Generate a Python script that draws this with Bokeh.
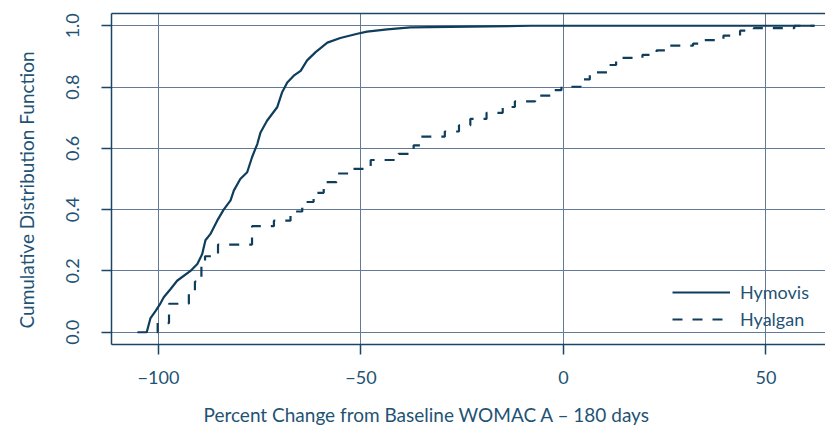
from bokeh.plotting import figure
from bokeh.models import Range1d, FixedTicker, LinearAxis, Legend, LegendItem, Title
from bokeh.embed import file_html
from bokeh.resources import INLINE

# Hymovis empirical CDF (traced)
hymovis_x = [-105.2, -102.9, -102.0, -100.7, -99.7, -98.7, -97.0, -95.4, -92.1, -90.4,
             -89.2, -88.4, -87.2, -85.5, -83.9, -82.2, -81.4, -79.8, -78.1, -76.9,
             -75.6, -74.8, -73.2, -70.7, -69.5, -68.2, -66.6, -64.9, -63.3, -61.2,
             -58.3, -55.1, -50.9, -48.5, -43.5, -37.8, -8.0, 62.0]
hymovis_y = [0.0, 0.0, 0.045, 0.07, 0.09, 0.114, 0.141, 0.168, 0.2, 0.223,
             0.255, 0.3, 0.32, 0.364, 0.40, 0.43, 0.462, 0.5, 0.522, 0.571,
             0.614, 0.652, 0.69, 0.734, 0.782, 0.815, 0.837, 0.853, 0.887, 0.914,
             0.945, 0.96, 0.974, 0.981, 0.988, 0.995, 1.0, 1.0]

# Hyalgan empirical CDF (step positions, traced)
hyalgan_x = [-100.4, -100.2, -97.4, -92.5, -91.0, -89.4, -88.5, -85.3, -76.9, -71.5,
             -67.4, -64.5, -61.7, -59.2, -56.0, -52.6, -47.6, -40.7, -37.0, -35.3,
             -29.3, -25.8, -23.0, -19.0, -15.0, -12.0, -7.0, -3.2, -0.5, 4.2,
             6.5, 11.0, 13.0, 19.5, 23.0, 25.5, 32.0, 34.5, 39.5, 43.6,
             47.0, 57.0, 62.0]
hyalgan_y = [0.0, 0.03, 0.093, 0.13, 0.165, 0.22, 0.248, 0.286, 0.346, 0.364,
             0.394, 0.425, 0.455, 0.49, 0.518, 0.533, 0.562, 0.582, 0.61, 0.638,
             0.655, 0.675, 0.696, 0.716, 0.735, 0.753, 0.772, 0.79, 0.801, 0.825,
             0.848, 0.872, 0.895, 0.905, 0.92, 0.935, 0.942, 0.953, 0.968, 0.984,
             0.992, 1.0, 1.0]

x_ticks = [-100, -50, 0, 50]
x_tick_labels = ["\u2212100", "\u221250", "0", "50"]
y_ticks = [0.0, 0.2, 0.4, 0.6, 0.8, 1.0]
y_tick_labels = ["0.0", "0.2", "0.4", "0.6", "0.8", "1.0"]

FONT = "Lato"
TEXT = "#1f5375"
FRAME = "#1b4566"
CURVE = "#0f3d5c"
GRID = "#62799a"
FS = "18px"

p = figure(width=825, height=425, output_backend="svg", toolbar_location=None,
           x_range=Range1d(-111.6, 64.7), y_range=Range1d(-0.04, 1.04),
           x_axis_location=None, y_axis_location=None,
           min_border_left=111, min_border_right=0, min_border_top=13, min_border_bottom=81)
p.outline_line_color = None
p.background_fill_color = "white"
p.border_fill_color = "white"

xaxis = LinearAxis(ticker=FixedTicker(ticks=x_ticks),
                   major_label_overrides={t: l for t, l in zip(x_ticks, x_tick_labels)})
yaxis = LinearAxis(ticker=FixedTicker(ticks=y_ticks),
                   major_label_overrides={t: l for t, l in zip(y_ticks, y_tick_labels)},
                   major_label_orientation="vertical")
for ax in (xaxis, yaxis):
    ax.axis_line_color = FRAME
    ax.axis_line_width = 1.5
    ax.major_tick_line_color = FRAME
    ax.major_tick_line_width = 1.5
    ax.major_tick_out = 10
    ax.major_tick_in = 0
    ax.minor_tick_line_color = None
    ax.major_label_text_font = FONT
    ax.major_label_text_font_size = FS
    ax.major_label_text_color = TEXT
    # invisible spacer label, only reserves room before the title
    ax.axis_label = "."
    ax.axis_label_text_font_size = "2px"
    ax.axis_label_text_alpha = 0
xaxis.major_label_standoff = 16
xaxis.axis_label_standoff = 10
yaxis.major_label_standoff = 22
yaxis.axis_label_standoff = 22
p.add_layout(xaxis, "below")
p.add_layout(yaxis, "left")

xtitle = Title(text="Percent Change from Baseline WOMAC A \u2013 180 days",
               align="left", offset=92, standoff=0,
               text_font=FONT, text_font_size="19px", text_font_style="normal",
               text_color=TEXT)
p.add_layout(xtitle, "below")

ytitle = Title(text="Cumulative Distribution Function",
               align="left", offset=16, standoff=0,
               text_font=FONT, text_font_size="19px", text_font_style="normal",
               text_color=TEXT)
p.add_layout(ytitle, "left")

top = LinearAxis(ticker=FixedTicker(ticks=[]), major_tick_out=0, major_tick_in=0,
                 minor_tick_line_color=None, major_label_standoff=0,
                 axis_line_color=FRAME, axis_line_width=1.5)
p.add_layout(top, "above")

p.xgrid.ticker = FixedTicker(ticks=x_ticks)
p.ygrid.ticker = FixedTicker(ticks=y_ticks)
for g in (p.xgrid, p.ygrid):
    g.grid_line_color = GRID
    g.grid_line_width = 1

r1 = p.line(hymovis_x, hymovis_y, line_color=CURVE, line_width=2.2)
r2 = p.step(hyalgan_x, hyalgan_y, mode="after", line_color=CURVE, line_width=2.2,
            line_dash="10 10")

legend = Legend(items=[LegendItem(label="Hymovis", renderers=[r1]),
                       LegendItem(label="Hyalgan", renderers=[r2])],
                location=(561, 14), orientation="vertical",
                glyph_width=58, glyph_height=20, label_height=20, label_standoff=10,
                spacing=5, padding=0, margin=0,
                border_line_color=None, background_fill_alpha=0,
                label_text_font=FONT, label_text_font_size=FS, label_text_color=TEXT)
p.add_layout(legend)

open("out.html", "w").write(file_html(p, INLINE))
